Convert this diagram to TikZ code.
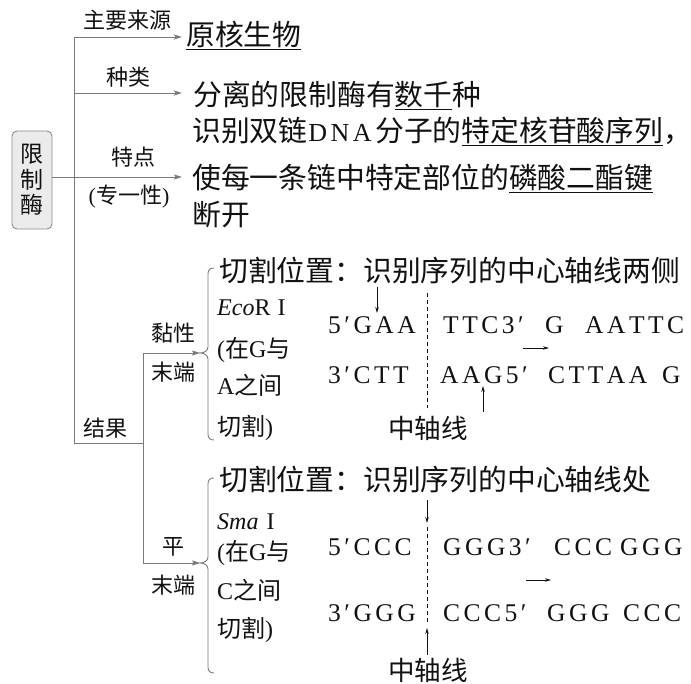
\documentclass[tikz,border=0pt]{standalone}
\usepackage{fontspec}
\setmainfont{Liberation Serif}
\newfontfamily\cjkfont{Noto Sans CJK SC}
\usetikzlibrary{arrows.meta}
\newcommand\zh[1]{{\cjkfont #1}}
\makeatletter
\def\dnaspc#1{\dna@a#1\@nil}
\def\dna@a#1{\ifx#1\@nil\else#1\kern3.5pt\expandafter\dna@a\fi}
\makeatother
\definecolor{ink}{HTML}{111111}
\definecolor{linegray}{HTML}{7A7A7A}
\definecolor{boxfill}{HTML}{EBEBEB}
\definecolor{boxline}{HTML}{8C8C8C}
\tikzset{
  conn/.style={draw=linegray, line width=0.9pt},
  arr/.style={conn, -{Stealth[length=8pt,width=5pt,inset=1.5pt]}},
  lbl/.style={inner sep=0pt, text=ink, font=\fontsize{22}{24}\selectfont\cjkfont},
  mainline/.style={inner sep=0pt, anchor=base west, text=ink, font=\fontsize{28.8}{30}\selectfont},
  side/.style={inner sep=0pt, anchor=base west, text=ink, font=\fontsize{24}{26}\selectfont},
  dna/.style={inner sep=0pt, anchor=base west, text=ink, font=\fontsize{25.5}{28}\selectfont},
  axlabel/.style={inner sep=0pt, text=ink, font=\fontsize{26.5}{28}\selectfont\cjkfont},
  darr/.style={draw=ink, line width=0.8pt, -{Stealth[length=6pt,width=3.5pt]}},
  axisline/.style={draw=ink, line width=0.8pt, dash pattern=on 4pt off 3pt},
  bracepath/.style={draw=linegray, line width=0.9pt},
  enzbox/.style={draw=boxline, fill=boxfill, rounded corners=5pt, line width=0.9pt,
    minimum width=40pt, minimum height=98pt, inner sep=0pt, align=center, text=ink,
    font=\fontsize{23}{25.5}\selectfont\cjkfont},
}
\begin{document}
\begin{tikzpicture}[x=1pt,y=-1pt]
\useasboundingbox (0,0) rectangle (691,684);

% enzyme box
\node[enzbox] (enz) at (32,180) {限\\制\\酶};

% branch labels
\node[lbl] (l1) at (127,20) {主要来源};
\node[lbl] (l2) at (128,77) {种类};
\node[lbl] (l3) at (133,157) {特点};
\node[lbl] (l3b) at (129,197) {{\rmfamily(}专一性{\rmfamily)}};
\node[lbl] (l4) at (105,428) {结果};
\node[lbl] (l5a) at (173,333) {黏性};
\node[lbl] (l5b) at (173,372) {末端};
\node[lbl] (l6a) at (173,547) {平};
\node[lbl] (l6b) at (173,585) {末端};

% main texts
\node[mainline] (t1) at (186,45.6) {\underline{\zh{原核生物}}};
\node[mainline] (t2) at (193,105.6) {\zh{分离的限制酶有}\underline{\zh{数千}}\zh{种}};
\node[mainline] (t3a) at (192,141.6) {\zh{识别双链}{\fontsize{26}{28}\selectfont\kern1pt\dnaspc{DNA}}\zh{分子的}\underline{\zh{特定核苷酸序列}}\zh{，}};
\node[mainline] (t3b) at (192,188.6) {\zh{使每一条链中特定部位的}\underline{\zh{磷酸二酯键}}};
\node[mainline] (t3c) at (192,225.6) {\zh{断开}};

% connectors
\coordinate (tTop) at (74,37);
\coordinate (j2) at (74,93);
\coordinate (tBot) at (74,443);
\coordinate (e1) at (182,37);
\coordinate (e2) at (182,93);
\coordinate (e3) at (182,177);
\coordinate (r1) at (143,443);
\coordinate (b1) at (200,353);
\coordinate (b2) at (200,563);
\draw[conn] (tTop) -- (tBot) -- (r1);
\draw[arr] (tTop) -- (e1);
\draw[arr] (j2) -- (e2);
\draw[arr] (enz.east |- e3) -- (e3);
\draw[arr] (r1) |- (b1);
\draw[arr] (r1) |- (b2);

% braces
\draw[bracepath] (214,268) .. controls (210,268) and (208,270) .. (208,274) -- (208,347)
  .. controls (208,351) and (204,353) .. (b1) .. controls (204,353) and (208,355) .. (208,359)
  -- (208,434) .. controls (208,438) and (210,440) .. (214,440);
\draw[bracepath] (214,478) .. controls (210,478) and (208,480) .. (208,484) -- (208,557)
  .. controls (208,561) and (204,563) .. (b2) .. controls (204,563) and (208,565) .. (208,569)
  -- (208,667) .. controls (208,671) and (210,673) .. (214,673);

% ===== sticky ends =====
\node[mainline] (c1) at (219,281.6) {\zh{切割位置：识别序列的中心轴线两侧}};
\node[side] (s1) at (217,316) {{\itshape Eco}R\hspace{7pt}I};
\node[side] (s2) at (217,358) {(\zh{在}G\zh{与}};
\node[side] (s3) at (217,395) {A\zh{之间}};
\node[side] (s4) at (217,436) {\zh{切割})};

\node[dna] (d1) at (328,334) {\dnaspc{5′GAA}};
\node[dna] (d2) at (443,334) {\dnaspc{TTC3′}};
\node[dna] (d3) at (545,334) {G};
\node[dna] (d4) at (585,334) {\dnaspc{AATTC}};
\node[dna] (d5) at (328,384) {\dnaspc{3′CTT}};
\node[dna] (d6) at (440,384) {\dnaspc{AAG5′}};
\node[dna] (d7) at (548,384) {\dnaspc{CTTAA}};
\node[dna] (d8) at (662,384) {G};
\node[axlabel] (ax1) at (428,428) {中轴线};

\coordinate (ax1top) at (427,293);
\coordinate (ax1bot) at (427,408);
\draw[axisline] (ax1top) -- (ax1bot);
\coordinate (cut1s) at (377,287);
\coordinate (cut1e) at (377,313);
\draw[darr] (cut1s) -- (cut1e);
\coordinate (cut2s) at (483,412);
\coordinate (cut2e) at (483,386);
\draw[darr] (cut2s) -- (cut2e);
\coordinate (res1s) at (523,348);
\coordinate (res1e) at (549,348);
\draw[darr] (res1s) -- (res1e);

% ===== blunt ends =====
\node[mainline] (c2) at (219,490.6) {\zh{切割位置：识别序列的中心轴线处}};
\node[side] (u1) at (217,529) {{\itshape Sma}\hspace{8pt}I};
\node[side] (u2) at (217,560) {(\zh{在}G\zh{与}};
\node[side] (u3) at (217,599) {C\zh{之间}};
\node[side] (u4) at (217,637) {\zh{切割})};

\node[dna] (f1) at (328,555) {\dnaspc{5′CCC}};
\node[dna] (f2) at (443,555) {\dnaspc{GGG3′}};
\node[dna] (f3) at (554,555) {\dnaspc{CCC}};
\node[dna] (f4) at (620,555) {\dnaspc{GGG}};
\node[dna] (f5) at (328,621) {\dnaspc{3′GGG}};
\node[dna] (f6) at (443,621) {\dnaspc{CCC5′}};
\node[dna] (f7) at (547,621) {\dnaspc{GGG}};
\node[dna] (f8) at (623,621) {\dnaspc{CCC}};
\node[axlabel] (ax2) at (428,670) {中轴线};

\coordinate (ax2top) at (427,527);
\coordinate (ax2bot) at (427,623);
\draw[axisline] (ax2top) -- (ax2bot);
\coordinate (cut3s) at (427,500);
\coordinate (cut3e) at (427,523);
\draw[darr] (cut3s) -- (cut3e);
\coordinate (cut4s) at (427,655);
\coordinate (cut4e) at (427,628);
\draw[darr] (cut4s) -- (cut4e);
\coordinate (res2s) at (526,580);
\coordinate (res2e) at (551,580);
\draw[darr] (res2s) -- (res2e);
\end{tikzpicture}
\end{document}
